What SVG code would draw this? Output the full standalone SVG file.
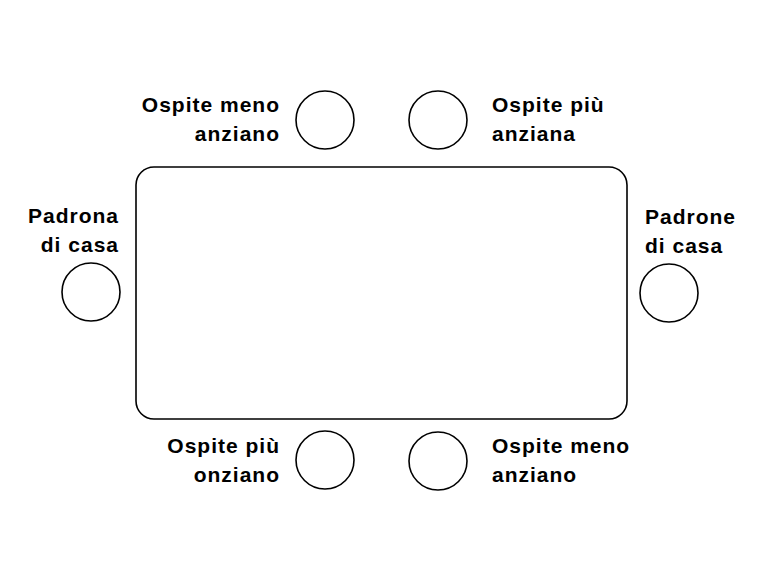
<svg xmlns="http://www.w3.org/2000/svg" width="767" height="564" viewBox="0 0 767 564">
<style>
.s{fill:#fff;stroke:#000;stroke-width:1.6}
text{font-family:"Liberation Sans",Arial,sans-serif;font-weight:bold;font-size:21px;letter-spacing:1px;fill:#000}
.r{text-anchor:end}
</style>
<rect width="767" height="564" fill="#fff"/>
<g id="table"><rect class="s" x="136" y="167" width="491" height="252" rx="18"/></g>
<g id="g1"><circle class="s" cx="325" cy="120" r="29"/><text class="r" x="280" y="112">Ospite meno</text><text class="r" x="280" y="141">anziano</text></g>
<g id="g2"><circle class="s" cx="438" cy="120" r="29"/><text x="492" y="112">Ospite più</text><text x="492" y="141">anziana</text></g>
<g id="g3"><circle class="s" cx="91" cy="292" r="29"/><text class="r" x="119" y="223">Padrona</text><text class="r" x="119" y="252">di casa</text></g>
<g id="g4"><circle class="s" cx="669" cy="293" r="29"/><text x="645" y="224">Padrone</text><text x="645" y="253">di casa</text></g>
<g id="g5"><circle class="s" cx="325" cy="460" r="29"/><text class="r" x="280" y="453">Ospite più</text><text class="r" x="280" y="482">onziano</text></g>
<g id="g6"><circle class="s" cx="438" cy="461" r="29"/><text x="492" y="453">Ospite meno</text><text x="492" y="482">anziano</text></g>
<g id="connectors"/>
</svg>
